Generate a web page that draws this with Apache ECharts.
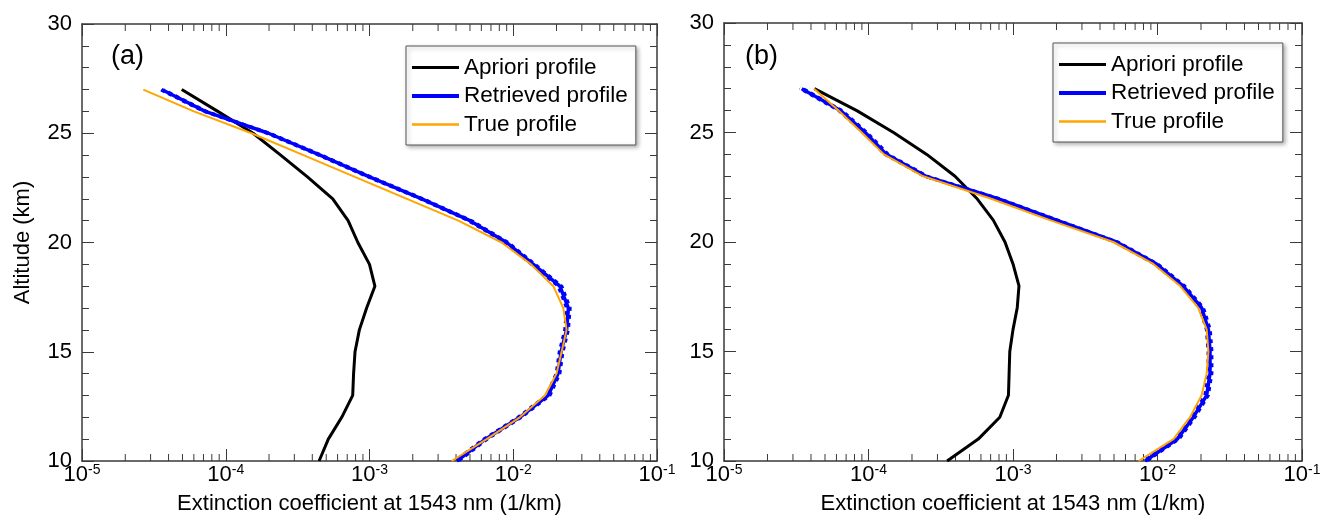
<!DOCTYPE html>
<html>
<head>
<meta charset="utf-8">
<script src="https://cdn.jsdelivr.net/npm/echarts@6/dist/echarts.min.js"></script>
<style>
  html, body { margin: 0; padding: 0; background: #fff; }
  #chart { width: 1322px; height: 517px; }
</style>
</head>
<body>
<div id="chart"></div>
<script>
// Altitude levels (km), shared by every profile
const altitude = [10, 11, 12, 13, 14, 15, 16, 17, 18, 19, 20, 21, 22, 23, 24, 25, 26, 27];

// Panel (a): extinction coefficient at 1543 nm (1/km)
const aprioriA   = [4.46e-4, 5.17e-4, 6.41e-4, 7.64e-4, 7.75e-4, 7.93e-4, 8.5e-4, 9.55e-4, 1.09e-3, 1.0e-3, 8.3e-4, 7.1e-4, 5.55e-4, 3.7e-4, 2.41e-4, 1.55e-4, 8.8e-5, 4.94e-5];
const trueA      = [3.73e-3, 6.53e-3, 1.11e-2, 1.66e-2, 2.0e-2, 2.17e-2, 2.35e-2, 2.23e-2, 1.9e-2, 1.33e-2, 8.3e-3, 4.15e-3, 1.82e-3, 7.9e-4, 3.47e-4, 1.51e-4, 6.0e-5, 2.67e-5];
const retrievedA = [4.05e-3, 6.4e-3, 1.11e-2, 1.75e-2, 2.05e-2, 2.15e-2, 2.35e-2, 2.42e-2, 2.11e-2, 1.38e-2, 9.0e-3, 5.0e-3, 2.31e-3, 1.0e-3, 4.53e-4, 1.98e-4, 7.2e-5, 3.58e-5];
const retrievedHiA = [4.2e-3, 6.65e-3, 1.15e-2, 1.81e-2, 2.12e-2, 2.23e-2, 2.43e-2, 2.5e-2, 2.19e-2, 1.43e-2, 9.3e-3, 5.18e-3, 2.39e-3, 1.04e-3, 4.69e-4, 2.05e-4, 7.45e-5, 3.71e-5];
const retrievedLoA = [3.9e-3, 6.17e-3, 1.07e-2, 1.69e-2, 1.98e-2, 2.08e-2, 2.27e-2, 2.34e-2, 2.04e-2, 1.33e-2, 8.7e-3, 4.83e-3, 2.23e-3, 9.65e-4, 4.37e-4, 1.91e-4, 6.95e-5, 3.46e-5];

// Panel (b)
const aprioriB   = [3.5e-4, 5.75e-4, 8.1e-4, 9.3e-4, 9.4e-4, 9.5e-4, 1.0e-3, 1.07e-3, 1.10e-3, 1.0e-3, 8.8e-4, 7.3e-4, 5.6e-4, 3.97e-4, 2.53e-4, 1.49e-4, 8.3e-5, 4.22e-5];
const trueB      = [7.4e-3, 1.29e-2, 1.68e-2, 2.02e-2, 2.19e-2, 2.25e-2, 2.19e-2, 1.91e-2, 1.43e-2, 9.35e-3, 4.94e-3, 1.8e-3, 6.9e-4, 2.39e-4, 1.28e-4, 8.97e-5, 6.2e-5, 4.2e-5];
const retrievedB = [8.2e-3, 1.37e-2, 1.77e-2, 2.19e-2, 2.31e-2, 2.31e-2, 2.25e-2, 2.02e-2, 1.5e-2, 9.8e-3, 5.2e-3, 2.0e-3, 7.7e-4, 2.5e-4, 1.33e-4, 9.5e-5, 6.4e-5, 3.45e-5];
const retrievedHiB = [8.5e-3, 1.42e-2, 1.83e-2, 2.26e-2, 2.39e-2, 2.39e-2, 2.33e-2, 2.09e-2, 1.55e-2, 1.01e-2, 5.38e-3, 2.07e-3, 7.97e-4, 2.59e-4, 1.38e-4, 9.83e-5, 6.62e-5, 3.57e-5];
const retrievedLoB = [7.92e-3, 1.32e-2, 1.71e-2, 2.12e-2, 2.23e-2, 2.23e-2, 2.17e-2, 1.95e-2, 1.45e-2, 9.47e-3, 5.02e-3, 1.93e-3, 7.44e-4, 2.42e-4, 1.29e-4, 9.18e-5, 6.18e-5, 3.33e-5];

// Axis settings
const xMin = 1e-5, xMax = 1e-1;
const yMin = 10, yMax = 30;
const panelLabels = ['(a)', '(b)'];
const legendNames = ['Apriori profile', 'Retrieved profile', 'True profile'];
const xTitle = 'Extinction coefficient at 1543 nm (1/km)';
const yTitle = 'Altitude (km)';

const FONT = 'Liberation Sans, Arial, Helvetica, sans-serif';
const AXIS_COLOR = '#3a3a3a';
const BLUE = '#0000ff';
const ORANGE = '#ffa500';

// minor decade ticks 2..9 x 10^n
const minorTickValues = [];
for (let e = -5; e < -1; e++) {
  for (let k = 2; k <= 9; k++) minorTickValues.push([k * Math.pow(10, e), yMin]);
}

function pairs(xs) { return xs.map((v, i) => [v, altitude[i]]); }

const grids = [
  { left: 82, top: 24, width: 575, height: 437, containLabel: false, outerBoundsMode: 'none' },
  { left: 724, top: 23, width: 578, height: 438, containLabel: false, outerBoundsMode: 'none' }
];

const legendLineWidths = { 'Apriori profile': 3, 'Retrieved profile': 4, 'True profile': 2.5 };

const xAxes = [], yAxes = [], series = [], legends = [], graphics = [];

grids.forEach((g, gi) => {
  const baseX = {
    gridIndex: gi, type: 'log', logBase: 10, min: xMin, max: xMax, splitNumber: 4,
    axisLine: { show: true, lineStyle: { color: AXIS_COLOR, width: 1.5 } },
    axisTick: { show: true, inside: true, length: 12, lineStyle: { color: AXIS_COLOR, width: 1 } },
    minorTick: { show: false },
    splitLine: { show: false }
  };
  xAxes.push(Object.assign({}, baseX, {
    position: 'bottom',
    name: xTitle, nameLocation: 'middle', nameGap: 32,
    nameTextStyle: { fontFamily: FONT, fontSize: 22, color: '#000' },
    axisLabel: {
      show: true, margin: 2, showMinLabel: true, showMaxLabel: true,
      formatter: v => '{b|10}{s|' + Math.round(Math.log10(v)) + '}',
      rich: {
        b: { fontFamily: FONT, fontSize: 22, color: '#000', lineHeight: 24 },
        s: { fontFamily: FONT, fontSize: 14, color: '#000', lineHeight: 14, verticalAlign: 'top' }
      }
    }
  }));
  xAxes.push(Object.assign({}, baseX, { position: 'top', axisLabel: { show: false } }));

  const baseY = {
    gridIndex: gi, type: 'value', min: yMin, max: yMax, interval: 5,
    axisLine: { show: true, lineStyle: { color: AXIS_COLOR, width: 1.5 } },
    axisTick: { show: true, inside: true, length: 12, lineStyle: { color: AXIS_COLOR, width: 1 } },
    minorTick: { show: true, splitNumber: 5, length: 7, lineStyle: { color: AXIS_COLOR, width: 1 } },
    splitLine: { show: false }
  };
  yAxes.push(Object.assign({}, baseY, {
    position: 'left',
    name: gi === 0 ? yTitle : '', nameLocation: 'middle', nameGap: 48,
    nameTextStyle: { fontFamily: FONT, fontSize: 22, color: '#000' },
    axisLabel: { show: true, margin: 10, fontFamily: FONT, fontSize: 22, color: '#000' }
  }));
  yAxes.push(Object.assign({}, baseY, { position: 'right', axisLabel: { show: false } }));

  const xi = gi * 2, yi = gi * 2;
  const d = gi === 0
    ? { ap: aprioriA, tr: trueA, re: retrievedA, hi: retrievedHiA, lo: retrievedLoA }
    : { ap: aprioriB, tr: trueB, re: retrievedB, hi: retrievedHiB, lo: retrievedLoB };

  const common = { type: 'line', xAxisIndex: xi, yAxisIndex: yi, symbol: 'none', silent: true, animation: false, z: 3 };
  series.push(Object.assign({}, common, { name: 'Apriori profile', data: pairs(d.ap), lineStyle: { color: '#000', width: 3 }, itemStyle: { color: '#000' }, z: 2 }));
  series.push(Object.assign({}, common, { name: 'retrieved upper', data: pairs(d.hi), lineStyle: { color: BLUE, width: 2.5, type: [4, 4] }, itemStyle: { color: BLUE } }));
  series.push(Object.assign({}, common, { name: 'retrieved lower', data: pairs(d.lo), lineStyle: { color: BLUE, width: 2.5, type: [4, 4], dashOffset: 4 }, itemStyle: { color: BLUE } }));
  series.push(Object.assign({}, common, { name: 'Retrieved profile', data: pairs(d.re), lineStyle: { color: BLUE, width: 3.5 }, itemStyle: { color: BLUE } }));
  series.push(Object.assign({}, common, { name: 'True profile', data: pairs(d.tr), lineStyle: { color: ORANGE, width: 2 }, itemStyle: { color: ORANGE }, z: 4 }));

  // decade minor ticks on the bottom and top frame
  series.push({
    type: 'custom', xAxisIndex: xi, yAxisIndex: yi, silent: true, animation: false, clip: false,
    data: minorTickValues,
    renderItem: (params, api) => {
      const pb = api.coord([api.value(0), yMin]);
      const pt = api.coord([api.value(0), yMax]);
      const st = { stroke: AXIS_COLOR, lineWidth: 1 };
      return {
        type: 'group', children: [
          { type: 'line', shape: { x1: pb[0], y1: pb[1], x2: pb[0], y2: pb[1] - 7 }, style: st },
          { type: 'line', shape: { x1: pt[0], y1: pt[1], x2: pt[0], y2: pt[1] + 7 }, style: st }
        ]
      };
    }
  });

  legends.push({
    data: legendNames.map(n => ({ name: n, lineStyle: { width: legendLineWidths[n] } })),
    orient: 'vertical',
    left: gi === 0 ? 406 : 1053, top: gi === 0 ? 46 : 43,
    itemWidth: 47, itemHeight: 20, itemGap: 5.5,
    padding: [10, 8, 9, 4],
    backgroundColor: '#fff', borderColor: '#555', borderWidth: 1,
    shadowColor: 'rgba(0,0,0,0.3)', shadowBlur: 4, shadowOffsetX: 2, shadowOffsetY: 2,
    selectedMode: false,
    itemStyle: { opacity: 0 },
    textStyle: { fontFamily: FONT, fontSize: 22.5, color: '#000' }
  });

  graphics.push({
    type: 'text', left: gi === 0 ? 111 : 745, top: 43,
    style: { text: panelLabels[gi], font: '27px ' + FONT, fill: '#000' }
  });
});

const chart = echarts.init(document.getElementById('chart'), null, { renderer: 'canvas' });
chart.setOption({
  animation: false,
  backgroundColor: '#fff',
  grid: grids,
  xAxis: xAxes,
  yAxis: yAxes,
  legend: legends,
  series: series,
  graphic: graphics
});
</script>
</body>
</html>
